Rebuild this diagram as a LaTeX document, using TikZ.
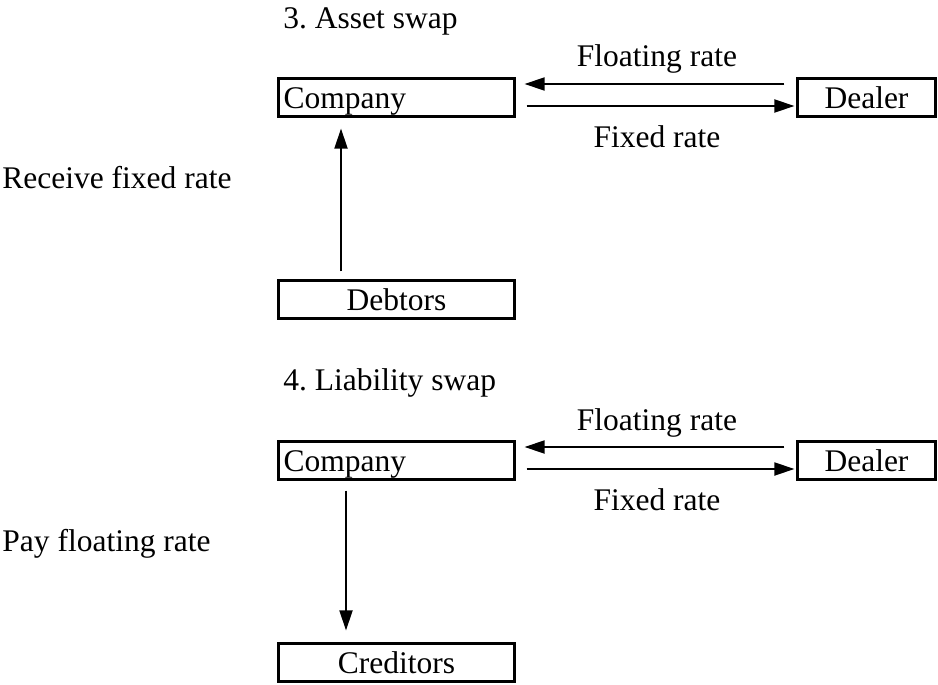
\documentclass[tikz,border=0pt]{standalone}
\usepackage{fontspec}
\setmainfont{Liberation Serif}
\usetikzlibrary{arrows.meta}
\frenchspacing
\begin{document}
\begin{tikzpicture}[x=0.5pt,y=-0.5pt,line join=miter,>={Triangle[length=10pt,width=6.5pt]},font=\fontsize{15.75}{18}\selectfont,
		party/.style={draw,line width=1.6pt,minimum height=19pt,inner xsep=2.5pt,inner ysep=0pt,text height=11pt,text depth=0.5pt},
		wide/.style={party,minimum width=118pt},
		firm/.style={party,text width=113pt,align=left},
		flow/.style={->,line width=1pt},
		lbl/.style={inner sep=0pt}]
	\useasboundingbox (0,0) rectangle (938,685);
	\def\h{363}
	% asset swap
	\node[lbl,anchor=base west] (titleA) at (283,28) {3. Asset swap};
	\node[firm] (compA) at (396.5,97.5) {Company};
	\node[party,minimum width=69pt] (dealerA) at (866.5,97.5) {Dealer};
	\node[wide] (debtA) at (396.5,299.5) {Debtors};
	\node[lbl,anchor=base] (floatA) at (657,67) {Floating rate};
	\node[lbl,anchor=base] (fixA) at (657,147) {Fixed rate};
	\node[lbl,anchor=base west] (recvA) at (2,188) {Receive fixed rate};
	\draw[flow,shorten <=5.75pt,shorten >=4.25pt] ([yshift=6.75pt]dealerA.west) -- ([yshift=6.75pt]compA.east);
	\draw[flow,shorten <=5.25pt,shorten >=0.75pt] ([yshift=-4.25pt]compA.east) -- ([yshift=-4.25pt]dealerA.west);
	\draw[flow,shorten <=3.75pt,shorten >=5.25pt] ([xshift=-27.75pt]debtA.north) -- ([xshift=-27.75pt]compA.south);
	% liability swap
	\node[lbl,anchor=base west] (titleB) at (283,28+\h-1) {4. Liability swap};
	\node[firm] (compB) at (396.5,97.5+\h) {Company};
	\node[party,minimum width=69pt] (dealerB) at (866.5,97.5+\h) {Dealer};
	\node[wide] (credB) at (396.5,299.5+\h) {Creditors};
	\node[lbl,anchor=base] (floatB) at (657,67+\h) {Floating rate};
	\node[lbl,anchor=base] (fixB) at (657,147+\h) {Fixed rate};
	\node[lbl,anchor=base west] (payB) at (2,188+\h) {Pay floating rate};
	\draw[flow,shorten <=5.75pt,shorten >=4.25pt] ([yshift=6.75pt]dealerB.west) -- ([yshift=6.75pt]compB.east);
	\draw[flow,shorten <=5.25pt,shorten >=0.75pt] ([yshift=-4.25pt]compB.east) -- ([yshift=-4.25pt]dealerB.west);
	\draw[flow,shorten <=4.75pt,shorten >=5.75pt] ([xshift=-25.25pt]compB.south) -- ([xshift=-25.25pt]credB.north);
\end{tikzpicture}
\end{document}
